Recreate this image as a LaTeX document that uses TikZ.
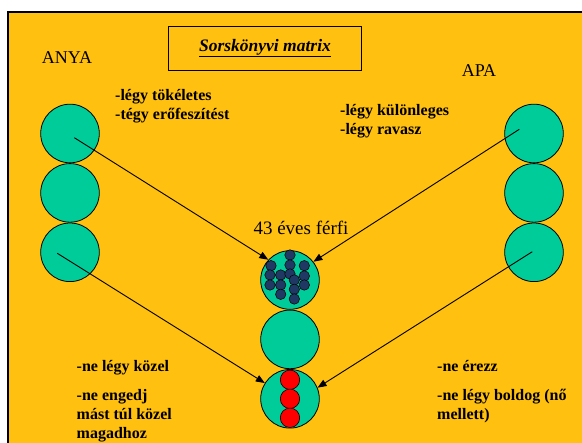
\documentclass[tikz,border=0pt]{standalone}
\usepackage{fontspec}
\setmainfont{Liberation Serif}
\usetikzlibrary{arrows.meta, positioning}
\definecolor{slideyellow}{RGB}{255,192,16}
\definecolor{ballgreen}{RGB}{0,204,153}
\definecolor{dotnavy}{RGB}{31,56,100}
\tikzstyle{ball} = [circle, draw=black, line width=0.8pt, fill=ballgreen,
    minimum size=58.6pt, inner sep=0pt]
\tikzstyle{reddot} = [circle, draw=black, line width=0.6pt, fill=red,
    minimum size=19.4pt, inner sep=0pt]
\tikzstyle{navydot} = [circle, draw=black, line width=0.5pt, fill=dotnavy,
    minimum size=10.5pt, inner sep=0pt]
\tikzstyle{parent} = [font=\fontsize{18}{21}\selectfont, inner sep=0pt, anchor=base]
\tikzstyle{note} = [font=\bfseries\fontsize{16}{19}\selectfont, align=left,
    anchor=north west, inner sep=0pt]
\tikzstyle{titlebox} = [rectangle, draw=black, line width=0.8pt, minimum width=193.4pt,
    minimum height=44.3pt, font=\bfseries\itshape\fontsize{17.5}{21}\selectfont]
\tikzstyle{arrow} = [line width=0.9pt, -{Triangle[length=9pt,width=7pt]}]

\begin{document}
\begin{tikzpicture}[x=1pt, y=-1pt]
\useasboundingbox (0,0) rectangle (582,443);
\fill[slideyellow] (7,11.2) rectangle (582,443);
\draw[line width=2.2pt] (8,443) -- (8,12.3) -- (582,12.3);

\node (title) [titlebox] at (265,48.2) {\underline{Sorskönyvi matrix}};
\node (anya) [parent] at (67,63.3) {ANYA};
\node (apa) [parent] at (479,76.7) {APA};
\node (age) [parent, font=\fontsize{19}{22}\selectfont] at (301,235) {43 éves férfi};

% mother and father
\node (l1) [ball] at (70,133.5) {};
\node (l2) [ball, below=0pt of l1] {};
\node (l3) [ball, below=0pt of l2] {};
\node (r1) [ball] at (534,133.5) {};
\node (r2) [ball, below=0pt of r1] {};
\node (r3) [ball, below=0pt of r2] {};

% son
\node (m1) [ball] at (290,280) {};
\node (m2) [ball, below=0pt of m1] {};
\node (m3) [ball, below=0pt of m2] {};
\foreach \dx/\dy [count=\i] in {0/-25, -19/-14.3, 0/-15, 14.3/-14.3, -20/-5, -9.3/-5,
    0/-6, 14.3/-4, 4.3/0, -20/5, -9.3/5, 14.3/5, 4.3/9.3, -9.3/14.3, 4.3/19}
  \node (dot\i) [navydot] at ([shift={(\dx,\dy)}]m1.center) {};
\foreach \dy [count=\i] in {-19,0,19}
  \node (red\i) [reddot] at ([shift={(0,\dy)}]m3.center) {};

\node (tl) [note, font=\bfseries\fontsize{16}{18.5}\selectfont] at (115,89.5) {-légy tökéletes\\-tégy erőfeszítést};
\node (tr) [note, font=\bfseries\fontsize{16}{18.5}\selectfont] at (340,104.5) {-légy különleges\\-légy ravasz};
\node (bl) [note] at (76.5,360) {-ne légy közel\\[10pt]-ne engedj\\mást túl közel\\magadhoz};
\node (br) [note] at (437,360) {-ne érezz\\[10pt]-ne légy boldog (nő\\mellett)};

\coordinate (la) at (74.3,137.7);
\coordinate (ra) at (519.3,129.3);
\coordinate (lb) at (57.3,253.3);
\coordinate (rb) at (532.3,251.7);
\draw[arrow] (la) -- (m1.137);
\draw[arrow] (ra) -- (m1.38);
\draw[arrow] (lb) -- (m3.148);
\draw[arrow] (rb) -- (m3.22);
\end{tikzpicture}
\end{document}
